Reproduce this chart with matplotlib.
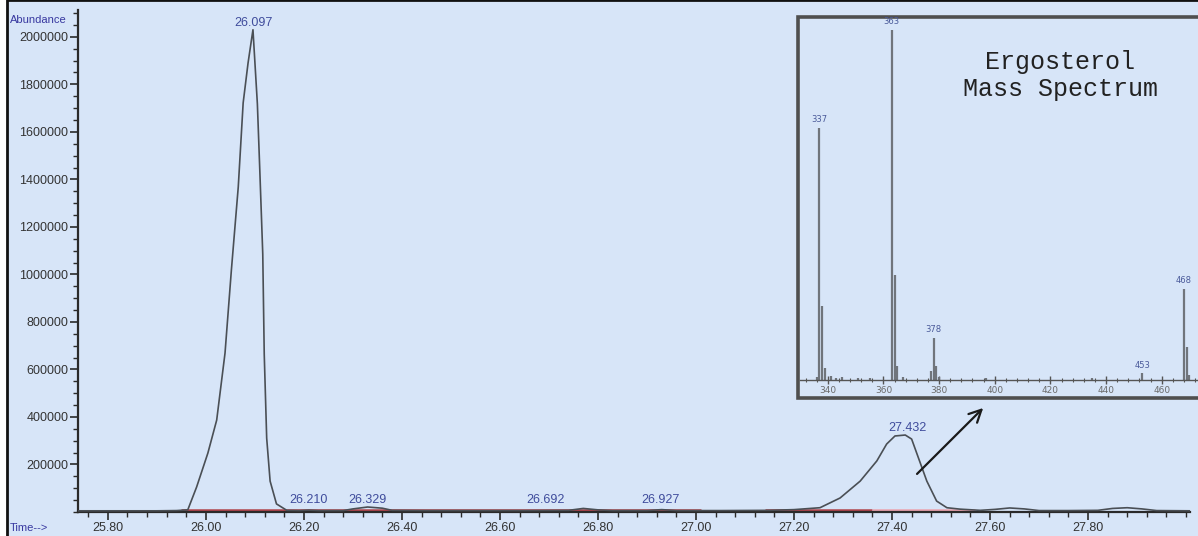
import numpy as np
import matplotlib
matplotlib.use('Agg')
import matplotlib.pyplot as plt
from matplotlib.patches import Rectangle
from matplotlib.ticker import MultipleLocator

W, H = 1198, 536  # output size in pixels

# chromatogram (retention time in min, abundance)
chrom_time = [25.74, 25.80, 25.90, 25.94, 25.963, 25.981, 26.004, 26.022, 26.039, 26.052,
              26.066, 26.076, 26.086, 26.096, 26.105, 26.110, 26.116, 26.119, 26.124, 26.131,
              26.144, 26.165, 26.19, 26.21, 26.23, 26.28, 26.30, 26.33, 26.36, 26.38,
              26.45, 26.55, 26.65, 26.74, 26.77, 26.80, 26.83, 26.90, 26.93, 26.96,
              27.05, 27.15, 27.20, 27.253, 27.294, 27.335, 27.369, 27.389, 27.406, 27.427,
              27.440, 27.454, 27.471, 27.491, 27.512, 27.539, 27.58, 27.61, 27.64, 27.67,
              27.70, 27.76, 27.82, 27.85, 27.88, 27.91, 27.94, 28.01]
chrom_abund = [5000, 5000, 5000, 6000, 9000, 105000, 248000, 387000, 669000, 1019000,
               1368000, 1722000, 1890000, 2030000, 1718000, 1436000, 1086000, 665000, 311000, 130000,
               34000, 7000, 6000, 8000, 6000, 6000, 13000, 21000, 16000, 7000,
               6000, 6000, 6000, 7000, 15000, 9000, 6000, 6000, 10000, 6000,
               6000, 7000, 10000, 18000, 59000, 130000, 215000, 286000, 320000, 324000,
               307000, 227000, 130000, 46000, 18000, 12000, 7000, 11000, 17000, 13000,
               6000, 6000, 7000, 15000, 18000, 13000, 6000, 5000]

# labelled peaks
peak_rt = [26.097, 26.210, 26.329, 26.692, 26.927, 27.432]
peak_height = [2030000, 6000, 20000, 14000, 9000, 324000]

# axis ticks
y_ticks = [200000, 400000, 600000, 800000, 1000000, 1200000, 1400000, 1600000, 1800000, 2000000]
x_ticks = [25.80, 26.00, 26.20, 26.40, 26.60, 26.80, 27.00, 27.20, 27.40, 27.60, 27.80]

# integration baselines (start, end, colour)
base_start = [25.95, 27.14, 27.36]
base_end = [27.01, 27.36, 27.57]
base_color = ['#b0444c', '#b0444c', '#eaa3ae']

# mass spectrum inset (m/z, relative intensity)
ms_mz = [336, 337, 338, 339, 341, 343, 345, 351, 355, 363, 364, 365, 367, 377, 378, 379, 380, 397, 435, 453, 468, 469, 470]
ms_int = [0.8, 72, 21, 3.5, 1.2, 0.6, 0.8, 0.5, 0.6, 100, 30, 4, 0.8, 2.5, 12, 4, 1, 0.5, 0.6, 2, 26, 9.5, 1.5]
ms_labels = [337, 363, 378, 453, 468]
ms_ticks = [340, 360, 380, 400, 420, 440, 460]

bg = '#d7e5f8'
blue_txt = '#3f4c9c'


def fx(x):
    return x / W


def fy(y):
    return 1 - y / H


fig = plt.figure(figsize=(W / 100, H / 100), dpi=100, facecolor='white')
fig.patches.append(Rectangle((fx(7), fy(545)), fx(1210 - 7), 545 / H, transform=fig.transFigure,
                             facecolor=bg, edgecolor='#111111', lw=2, zorder=-5))

# main chromatogram
ax = fig.add_axes([fx(78), fy(512), fx(1190 - 78), (512 - 10) / H], zorder=1)
ax.set_facecolor('none')
ax.set_xlim(25.739, 28.008)
ax.set_ylim(0, 2113000)
for s in ['top', 'right']:
    ax.spines[s].set_visible(False)
for s in ['left', 'bottom']:
    ax.spines[s].set_linewidth(1.6)
    ax.spines[s].set_color('#2a2a2a')

for s0, s1, c in zip(base_start, base_end, base_color):
    ax.plot([s0, s1], [7000, 7000], color=c, lw=1.8, solid_capstyle='butt', zorder=2)
ax.plot(chrom_time, chrom_abund, color='#4a4f55', lw=1.2, zorder=3)

for rt, h in zip(peak_rt, peak_height):
    ax.text(rt, max(h, 20000) + 30000, '%.3f' % rt, ha='center', va='center',
            fontsize=9, color=blue_txt, family='Liberation Sans')

ax.set_yticks(y_ticks)
ax.set_yticklabels([str(v) for v in y_ticks])
ax.set_xticks(x_ticks)
ax.set_xticklabels(['%.2f' % v for v in x_ticks])
ax.xaxis.set_minor_locator(MultipleLocator(0.04))
ax.yaxis.set_minor_locator(MultipleLocator(50000))
ax.tick_params(axis='both', which='major', length=6, width=1.2, color='#2a2a2a',
               labelsize=9, labelcolor='#333333', pad=1)
ax.tick_params(axis='both', which='minor', length=3.5, width=1, color='#2a2a2a')
for lab in ax.get_xticklabels() + ax.get_yticklabels():
    lab.set_family('Liberation Sans')

ax.annotate('', xy=(27.59, 446000), xytext=(27.447, 152000),
            arrowprops=dict(arrowstyle='->', color='#1a1a1a', lw=1.6, mutation_scale=22))

fig.text(fx(10), fy(20), 'Abundance', fontsize=8, color='#3838a0', va='center',
         family='Liberation Sans')
fig.text(fx(10), fy(528), 'Time-->', fontsize=8, color='#3838a0', va='center',
         family='Liberation Sans')

# inset mass spectrum
fig.patches.append(Rectangle((fx(798), fy(398)), fx(1210 - 798), (398 - 17) / H,
                             transform=fig.transFigure, facecolor=bg, edgecolor='#4f4f4f',
                             lw=2.6, zorder=5))
axi = fig.add_axes([fx(800), fy(398), fx(1197 - 800), (398 - 18) / H], zorder=6)
axi.set_facecolor('none')
axi.set_xlim(330, 472.7)
axi.set_ylim(-5.14, 103.4)
for s in ['top', 'right', 'left']:
    axi.spines[s].set_visible(False)
axi.spines['bottom'].set_position(('data', 0))
axi.spines['bottom'].set_color('#555555')
axi.spines['bottom'].set_linewidth(1)
axi.set_yticks([])
axi.set_xticks(ms_ticks)
axi.xaxis.set_minor_locator(MultipleLocator(4))
axi.tick_params(axis='x', which='major', direction='inout', length=6, width=1, color='#555555',
                labelsize=6.5, labelcolor='#6a6a6a', pad=1)
axi.tick_params(axis='x', which='minor', direction='inout', length=3, width=0.8, color='#555555')
axi.vlines(ms_mz, 0, ms_int, color='#70757c', lw=1.6)
for m in ms_labels:
    axi.text(m, ms_int[ms_mz.index(m)] + 1.0, str(m), ha='center', va='bottom',
             fontsize=6, color='#4a5a9a')
axi.text(423.5, 87, 'Ergosterol\nMass Spectrum', ha='center', va='center', fontsize=18,
         family='Liberation Mono', color='#222222', linespacing=1.2)

fig.savefig('out.png', dpi=100, facecolor=fig.get_facecolor())
